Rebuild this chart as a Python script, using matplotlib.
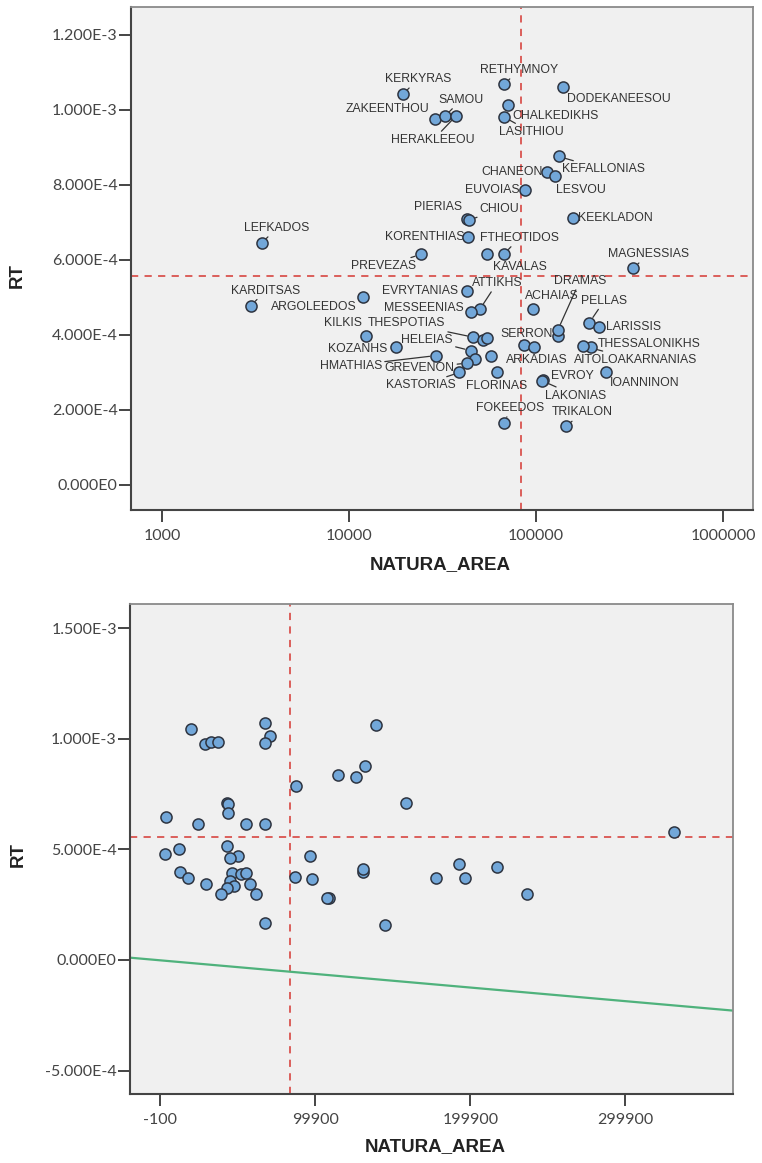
import matplotlib
matplotlib.use("Agg")
from matplotlib import pyplot as plt
from matplotlib.ticker import FixedLocator, FuncFormatter, NullLocator

# prefecture names ("" = point drawn without a label)
names = ["LEFKADOS", "KARDITSAS", "ARGOLEEDOS", "KILKIS", "KOZANHS", "EVRYTANIAS",
         "ATTIKHS", "MESSEENIAS", "HMATHIAS", "THESPOTIAS", "", "", "HELEIAS", "",
         "GREVENON", "KASTORIAS", "ARKADIAS", "FLORINAS", "", "", "SERRON", "DRAMAS",
         "ACHAIAS", "PELLAS", "LARISSIS", "THESSALONIKHS", "AITOLOAKARNANIAS",
         "IOANNINON", "EVROY", "LAKONIAS", "FOKEEDOS", "TRIKALON", "KERKYRAS",
         "RETHYMNOY", "DODEKANEESOU", "CHALKEDIKHS", "LASITHIOU", "ZAKEENTHOU",
         "SAMOU", "HERAKLEEOU", "KEFALLONIAS", "CHANEON", "LESVOU", "EUVOIAS",
         "PIERIAS", "CHIOU", "KEEKLADON", "KORENTHIAS", "PREVEZAS", "FTHEOTIDOS",
         "KAVALAS", "MAGNESSIAS"]

natura_area = [3410, 2980, 11900, 12250, 17800, 42600,
               50100, 44900, 29100, 46200, 52200, 54900, 44900, 47200,
               42900, 38900, 57400, 61700, 86600, 97900, 130600, 130600,
               96700, 192700, 217300, 196700, 177900,
               236500, 108700, 107500, 67700, 144600, 19400,
               67500, 139000, 70600, 67500, 28800,
               32600, 37300, 132100, 114800, 126400, 87300,
               42700, 43600, 158300, 43400, 24200, 67500,
               54900, 331000]

rt = [6.45e-4, 4.78e-4, 5.00e-4, 3.96e-4, 3.69e-4, 5.17e-4,
      4.69e-4, 4.60e-4, 3.45e-4, 3.94e-4, 3.87e-4, 3.93e-4, 3.58e-4, 3.35e-4,
      3.25e-4, 3.00e-4, 3.45e-4, 3.00e-4, 3.73e-4, 3.67e-4, 3.96e-4, 4.13e-4,
      4.69e-4, 4.33e-4, 4.22e-4, 3.69e-4, 3.71e-4,
      3.00e-4, 2.80e-4, 2.78e-4, 1.65e-4, 1.56e-4, 1.042e-3,
      1.069e-3, 1.062e-3, 1.013e-3, 9.81e-4, 9.76e-4,
      9.84e-4, 9.84e-4, 8.76e-4, 8.34e-4, 8.25e-4, 7.87e-4,
      7.10e-4, 7.06e-4, 7.11e-4, 6.62e-4, 6.15e-4, 6.16e-4,
      6.16e-4, 5.78e-4]

# reference lines (means) and fit line
rt_ref = 5.57e-4
area_ref = 83500
fit_intercept = -1.8e-6
fit_slope = -6.15e-10

top_xticks = [1000, 10000, 100000, 1000000]
top_yticks = [0, 2e-4, 4e-4, 6e-4, 8e-4, 1e-3, 1.2e-3]
bot_xticks = [-100, 99900, 199900, 299900]
bot_yticks = [-5e-4, 0, 5e-4, 1e-3, 1.5e-3]

# label placement: offset of label centre from point, pixels (x right, y up)
label_pos = {
    "LEFKADOS": (15, 15), "KARDITSAS": (15, 15), "ARGOLEEDOS": (-49, -10),
    "KILKIS": (-23, 13), "KOZANHS": (-38, -2), "EVRYTANIAS": (-47, 0),
    "ATTIKHS": (17, 26), "MESSEENIAS": (-47, 4), "HMATHIAS": (-85, -10),
    "THESPOTIAS": (-67, 14), "HELEIAS": (-44, 11), "GREVENON": (-48, -5),
    "KASTORIAS": (-39, -13), "ARKADIAS": (46, -4), "FLORINAS": (0, -14),
    "SERRON": (-31, 2), "DRAMAS": (22, 49), "ACHAIAS": (18, 13),
    "PELLAS": (15, 22), "LARISSIS": (34, 0), "THESSALONIKHS": (58, 3),
    "AITOLOAKARNANIAS": (53, -14), "IOANNINON": (39, -11), "EVROY": (30, 4),
    "LAKONIAS": (34, -15), "FOKEEDOS": (6, 15), "TRIKALON": (16, 14),
    "KERKYRAS": (15, 15), "RETHYMNOY": (15, 14), "DODEKANEESOU": (56, -12),
    "CHALKEDIKHS": (48, -11), "LASITHIOU": (27, -15), "ZAKEENTHOU": (-47, 10),
    "SAMOU": (16, 16), "HERAKLEEOU": (-23, -24), "KEFALLONIAS": (45, -13),
    "CHANEON": (-35, 0), "LESVOU": (26, -14), "EUVOIAS": (-33, 0),
    "PIERIAS": (-29, 12), "CHIOU": (31, 11), "KEEKLADON": (42, 0),
    "KORENTHIAS": (-44, 0), "PREVEZAS": (-37, -12), "FTHEOTIDOS": (15, 16),
    "KAVALAS": (33, -13), "MAGNESSIAS": (15, 14),
}
leaders = {"LEFKADOS", "KARDITSAS", "ATTIKHS", "HMATHIAS", "THESPOTIAS", "HELEIAS",
           "GREVENON", "KASTORIAS", "DRAMAS", "PELLAS", "AITOLOAKARNANIAS",
           "LAKONIAS", "FOKEEDOS", "TRIKALON", "KERKYRAS", "RETHYMNOY", "SAMOU",
           "HERAKLEEOU", "KEFALLONIAS", "CHIOU", "PREVEZAS", "FTHEOTIDOS",
           "MAGNESSIAS", "LASITHIOU"}

fill = "#72a7d9"
edge = "#2e3440"
ref_color = "#d9534f"
tick_font = "Lato"
label_font = "Liberation Sans"


def sci_fmt(v, pos):
    m, e = ("%.3E" % v).split("E")
    return m + "E" + str(int(e))


def style_axes(ax):
    ax.set_facecolor("#f0f0f0")
    for side in ["left", "bottom"]:
        ax.spines[side].set_color("#444444")
        ax.spines[side].set_linewidth(1.5)
    for side in ["top", "right"]:
        ax.spines[side].set_color("#8a8a8a")
        ax.spines[side].set_linewidth(1.3)
    ax.tick_params(axis="both", which="major", length=8.5, width=1.4,
                   color="#444444", labelcolor="#444444", labelsize=11.5)
    ax.tick_params(axis="y", pad=1)
    ax.tick_params(axis="x", pad=5)
    ax.tick_params(which="minor", length=0)
    for lab in ax.get_xticklabels() + ax.get_yticklabels():
        lab.set_fontfamily(tick_font)
    ax.set_xlabel("NATURA_AREA", fontsize=13.5, fontweight="bold",
                  family=label_font, color="#222222")
    ax.set_ylabel("RT", fontsize=13.5, fontweight="bold",
                  family=label_font, color="#222222")


fig = plt.figure(figsize=(7.62, 11.63), dpi=100)

# ---- top: log x ----
ax1 = fig.add_axes([0.1719, 0.5615, 0.8163, 0.4325])
ax1.set_xscale("log")
ax1.set_xlim(682, 1.445e6)
ax1.set_ylim(-6.67e-5, 1.2747e-3)
ax1.axhline(rt_ref, color=ref_color, lw=1.3, ls=(0, (4, 3.5)), zorder=1)
ax1.axvline(area_ref, color=ref_color, lw=1.3, ls=(0, (4, 3.5)), zorder=1)
ax1.scatter(natura_area, rt, s=64, c=fill, edgecolors=edge, linewidths=1.1, zorder=3)

for n, x, y in zip(names, natura_area, rt):
    if not n:
        continue
    dx, dy = label_pos[n]
    props = None
    if n in leaders:
        props = dict(arrowstyle="-", color="#333333", lw=0.9,
                     shrinkA=0, shrinkB=4.5)
    ax1.annotate(n, (x, y), xytext=(dx, dy), textcoords="offset pixels",
                 ha="center", va="center", fontsize=8.8, family=label_font,
                 color="#333333", arrowprops=props, zorder=2,
                 annotation_clip=False)

ax1.xaxis.set_major_locator(FixedLocator(top_xticks))
ax1.xaxis.set_minor_locator(NullLocator())
ax1.xaxis.set_major_formatter(FuncFormatter(lambda v, p: "%d" % v))
ax1.yaxis.set_major_locator(FixedLocator(top_yticks))
ax1.yaxis.set_major_formatter(FuncFormatter(sci_fmt))
style_axes(ax1)
ax1.yaxis.set_label_coords(-0.169, 0.467)
ax1.xaxis.set_label_coords(0.497, -0.092)

# ---- bottom: linear x ----
ax2 = fig.add_axes([0.1706, 0.0593, 0.7913, 0.4214])
xmin, xmax = -19700, 369300
ax2.set_xlim(xmin, xmax)
ax2.set_ylim(-6.06e-4, 1.609e-3)
ax2.axhline(rt_ref, color=ref_color, lw=1.3, ls=(0, (4, 3.5)), zorder=1)
ax2.axvline(area_ref, color=ref_color, lw=1.3, ls=(0, (4, 3.5)), zorder=1)
ax2.plot([xmin, xmax], [fit_intercept + fit_slope * xmin, fit_intercept + fit_slope * xmax],
         color="#4fb27c", lw=1.6, zorder=2)
ax2.scatter(natura_area, rt, s=64, c=fill, edgecolors=edge, linewidths=1.1, zorder=3)

ax2.xaxis.set_major_locator(FixedLocator(bot_xticks))
ax2.xaxis.set_major_formatter(FuncFormatter(lambda v, p: "%d" % v))
ax2.yaxis.set_major_locator(FixedLocator(bot_yticks))
ax2.yaxis.set_major_formatter(FuncFormatter(sci_fmt))
style_axes(ax2)
ax2.yaxis.set_label_coords(-0.172, 0.488)
ax2.xaxis.set_label_coords(0.506, -0.09)

fig.savefig("out.png", dpi=100, facecolor="white")
